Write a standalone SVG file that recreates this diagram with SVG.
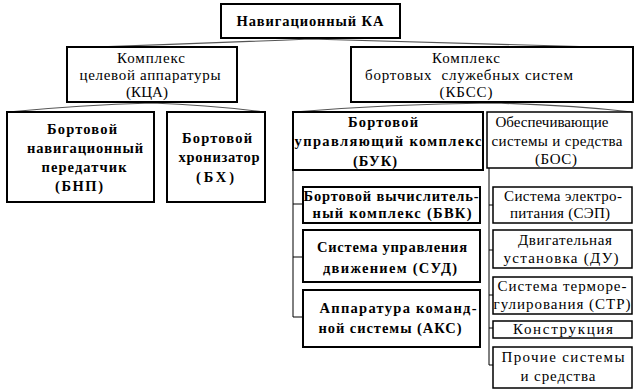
<svg xmlns="http://www.w3.org/2000/svg" width="642" height="390" viewBox="0 0 642 390">
<style>
.box{fill:#fff;stroke:#000;stroke-width:2}
.thin{stroke-width:1.5}
text{font-family:"Liberation Serif","DejaVu Serif",serif;font-size:15px;fill:#000;text-anchor:middle}
.b{font-weight:bold;font-size:14.5px}
.brace{fill:none;stroke:#555;stroke-width:1.2}
.ln{fill:none;stroke:#000;stroke-width:1}
</style>
<rect width="642" height="390" fill="#fff"/>
<g id="connectors">
<path class="brace" d="M67,48 Q190,44 310,39 Q470,43 633,48"/>
<path class="brace" d="M8,112 Q80,105 152,103 Q210,105 264,112"/>
<path class="brace" d="M294,112 Q390,104 492,103 Q570,105 632,112"/>
<path class="ln" d="M293,170 V317 M293,204 H303 M293,257 H303 M293,317 H303"/>
<path class="ln" d="M489,168 V365 M489,205 H493 M489,250 H493 M489,295 H493 M489,328 H493 M489,365 H493"/>
</g>
<g id="ka">
<rect class="box" x="221" y="4" width="179" height="34"/>
<text class="b" x="310" y="26" textLength="147" lengthAdjust="spacing">Навигационный КА</text>
</g>
<g id="kca">
<rect class="box" x="67" y="47" width="170" height="55"/>
<text x="151" y="63" textLength="68" lengthAdjust="spacing">Комплекс</text>
<text x="150" y="80" textLength="141" lengthAdjust="spacing">целевой аппаратуры</text>
<text x="147" y="97" textLength="42" lengthAdjust="spacing">(КЦА)</text>
</g>
<g id="kbss">
<rect class="box" x="351" y="47" width="282" height="55"/>
<text x="466" y="63" textLength="68" lengthAdjust="spacing">Комплекс</text>
<text x="469" y="80" textLength="208" lengthAdjust="spacing" xml:space="preserve">бортовых  служебных систем</text>
<text x="466" y="97" textLength="53" lengthAdjust="spacing">(КБСС)</text>
</g>
<g id="bnp">
<rect class="box" x="7" y="112" width="147" height="90"/>
<text class="b" x="82" y="134" textLength="70" lengthAdjust="spacing">Бортовой</text>
<text class="b" x="85" y="153" textLength="116" lengthAdjust="spacing">навигационный</text>
<text class="b" x="84" y="172" textLength="85" lengthAdjust="spacing">передатчик</text>
<text class="b" x="79" y="191" textLength="48" lengthAdjust="spacing">(БНП)</text>
</g>
<g id="bh">
<rect class="box" x="167" y="112" width="98" height="90"/>
<text class="b" x="217" y="143" textLength="70" lengthAdjust="spacing">Бортовой</text>
<text class="b" x="219" y="162" textLength="81" lengthAdjust="spacing">хронизатор</text>
<text class="b" x="215" y="182" textLength="38" lengthAdjust="spacing">(БХ)</text>
</g>
<g id="buk">
<rect class="box" x="293" y="112" width="190" height="58"/>
<text class="b" x="383" y="127" textLength="70" lengthAdjust="spacing">Бортовой</text>
<text class="b" x="388" y="146" textLength="187" lengthAdjust="spacing">управляющий комплекс</text>
<text class="b" x="375" y="166" textLength="44" lengthAdjust="spacing">(БУК)</text>
</g>
<g id="bos">
<rect class="box thin" x="487" y="112" width="145" height="56"/>
<text x="552" y="127" textLength="113" lengthAdjust="spacing">Обеспечивающие</text>
<text x="557" y="146" textLength="131" lengthAdjust="spacing">системы и средства</text>
<text x="556" y="164" textLength="42" lengthAdjust="spacing">(БОС)</text>
</g>
<g id="bvk">
<rect class="box" x="303" y="187" width="177" height="36"/>
<text class="b" x="391" y="201" textLength="175" lengthAdjust="spacing">Бортовой вычислитель-</text>
<text class="b" x="392" y="218" textLength="159" lengthAdjust="spacing">ный комплекс (БВК)</text>
</g>
<g id="sud">
<rect class="box" x="303" y="230" width="177" height="52"/>
<text class="b" x="392" y="252" textLength="150" lengthAdjust="spacing">Система управления</text>
<text class="b" x="390" y="273" textLength="134" lengthAdjust="spacing">движением (СУД)</text>
</g>
<g id="aks">
<rect class="box" x="303" y="290" width="177" height="57"/>
<text class="b" x="398" y="313" textLength="157" lengthAdjust="spacing">Аппаратура команд-</text>
<text class="b" x="390" y="333" textLength="143" lengthAdjust="spacing">ной системы (АКС)</text>
</g>
<g id="sep">
<rect class="box thin" x="493" y="187" width="139" height="36"/>
<text x="563" y="201" textLength="118" lengthAdjust="spacing">Система электро-</text>
<text x="560" y="218" textLength="100" lengthAdjust="spacing">питания (СЭП)</text>
</g>
<g id="du">
<rect class="box thin" x="493" y="230" width="139" height="38"/>
<text x="565" y="245" textLength="94" lengthAdjust="spacing">Двигательная</text>
<text x="561" y="263" textLength="115" lengthAdjust="spacing">установка (ДУ)</text>
</g>
<g id="str">
<rect class="box thin" x="493" y="277" width="139" height="37"/>
<text x="562" y="291" textLength="129" lengthAdjust="spacing">Система терморе-</text>
<text x="562" y="309" textLength="137" lengthAdjust="spacing">гулирования (СТР)</text>
</g>
<g id="konstr">
<rect class="box thin" x="493" y="321" width="139" height="17"/>
<text x="563" y="334" textLength="100" lengthAdjust="spacing">Конструкция</text>
</g>
<g id="prochie">
<rect class="box thin" x="493" y="347" width="139" height="41"/>
<text x="563" y="362" textLength="123" lengthAdjust="spacing">Прочие системы</text>
<text x="558" y="381" textLength="75" lengthAdjust="spacing">и средства</text>
</g>
</svg>
